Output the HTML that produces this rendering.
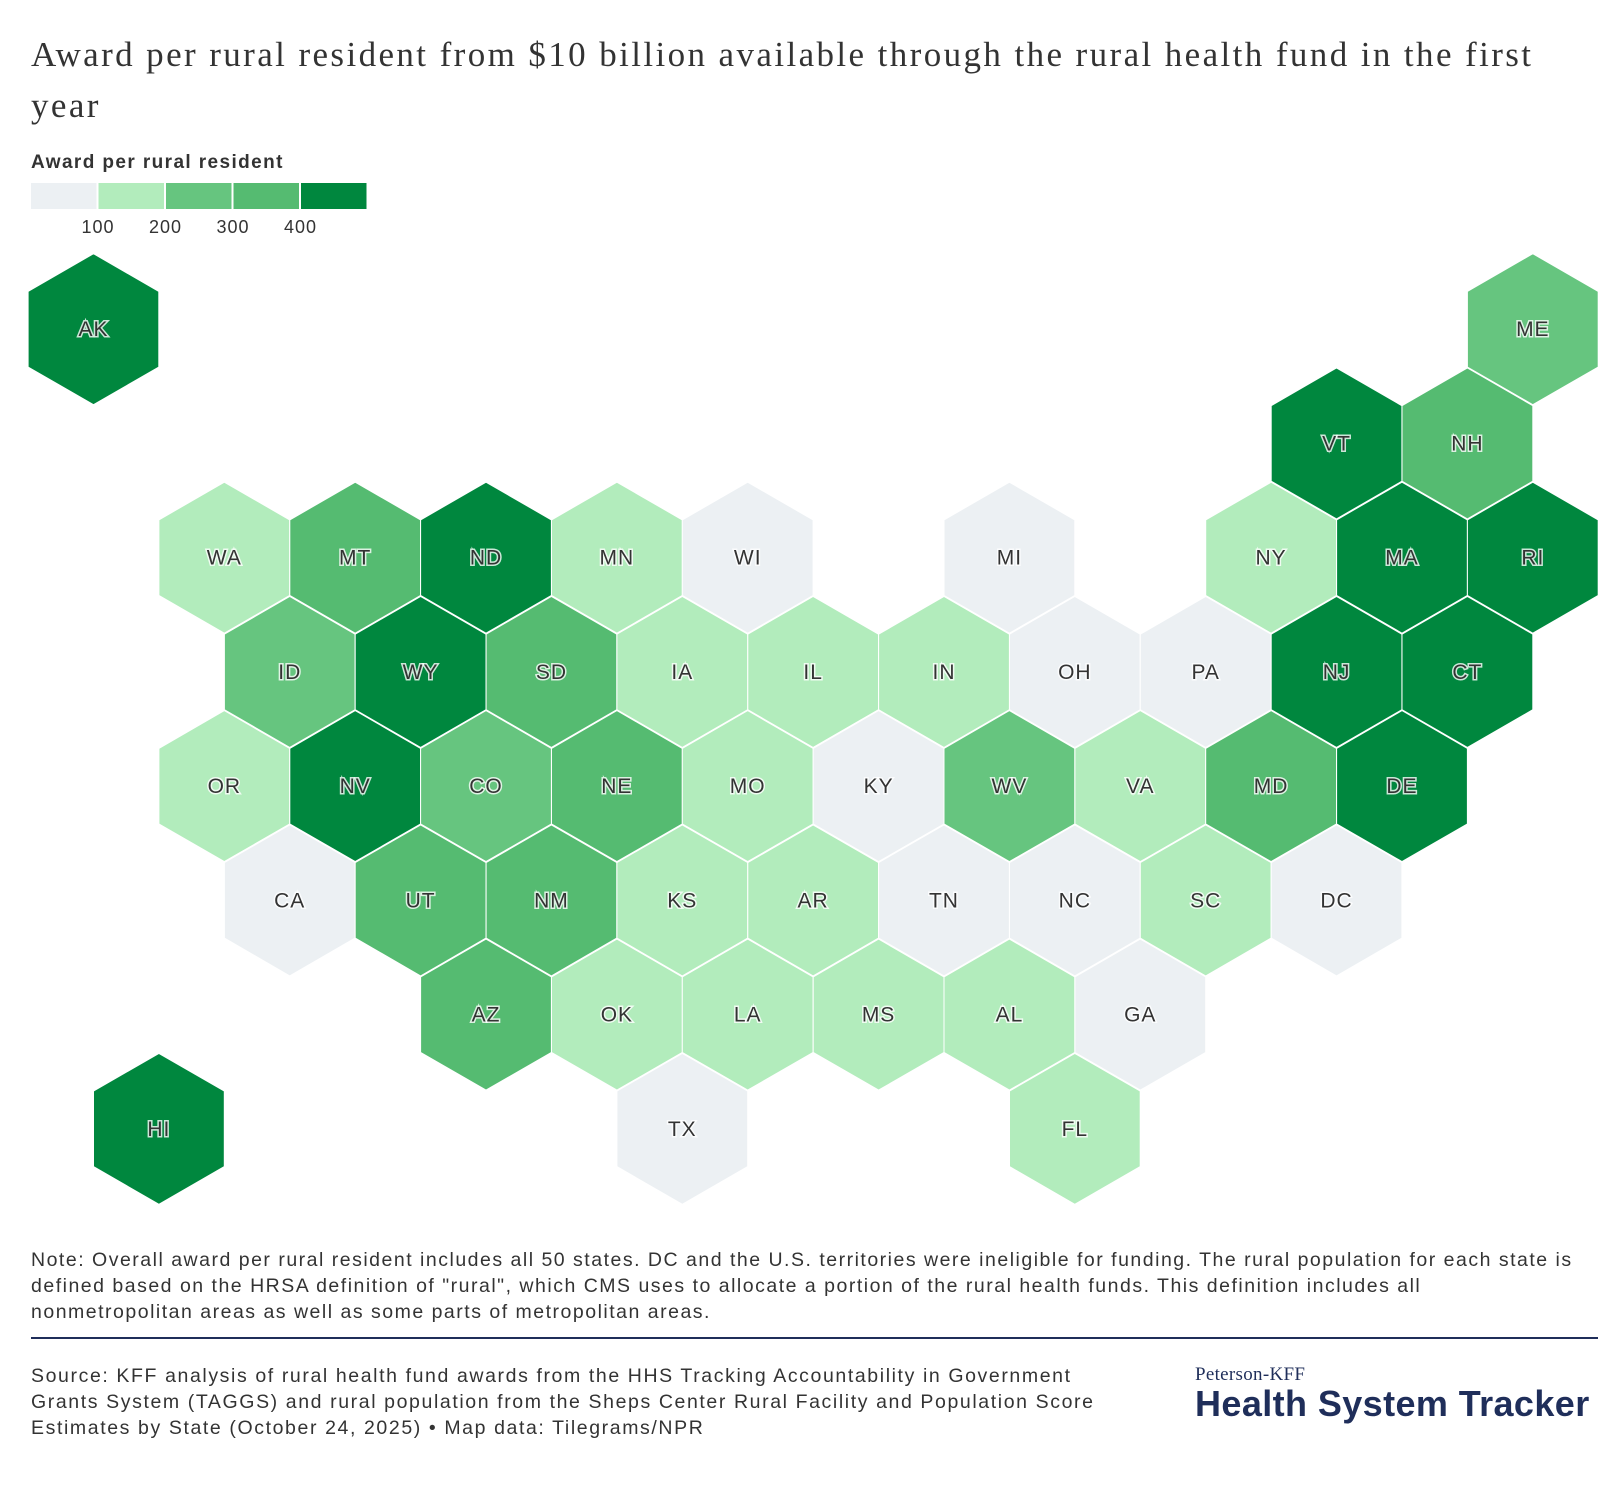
<!DOCTYPE html>
<html><head><meta charset="utf-8"><style>
body{margin:0;background:#fff;width:1620px;height:1492px;overflow:hidden;font-family:"Liberation Sans",sans-serif;color:#222}
.title{position:absolute;left:31px;top:29px;width:1600px;font-family:"Liberation Serif",serif;font-size:35px;letter-spacing:2.4px;line-height:51px;color:#333;white-space:nowrap}
.note{position:absolute;left:31px;top:1247px;width:1600px;font-size:19.5px;letter-spacing:1.5px;line-height:26px;color:#333;white-space:nowrap}
.src{position:absolute;left:31px;top:1363px;width:1100px;font-size:19.5px;letter-spacing:1.6px;line-height:26px;color:#333;white-space:nowrap}
.rule{position:absolute;left:31px;top:1337px;width:1567px;height:2px;background:#1f2e5a}
</style></head><body>
<div class="title">Award per rural resident from $10 billion available through the rural health fund in the first<br>year</div>
<svg id="map" width="1620" height="1240" style="position:absolute;left:0;top:0"></svg>
<div class="note">Note: Overall award per rural resident includes all 50 states. DC and the U.S. territories were ineligible for funding. The rural population for each state is<br>defined based on the HRSA definition of "rural", which CMS uses to allocate a portion of the rural health funds. This definition includes all<br>nonmetropolitan areas as well as some parts of metropolitan areas.</div>
<div class="rule"></div>
<div class="src">Source: KFF analysis of rural health fund awards from the HHS Tracking Accountability in Government<br>Grants System (TAGGS) and rural population from the Sheps Center Rural Facility and Population Score<br>Estimates by State (October 24, 2025) • Map data: Tilegrams/NPR</div>
<div style="position:absolute;left:1195px;top:1364px;color:#1f2e5a;white-space:nowrap">
<div style="font-family:'Liberation Serif',serif;font-size:19px;letter-spacing:0.3px">Peterson-KFF</div>
<div style="font-weight:bold;font-size:36px;letter-spacing:0.4px;margin-top:-3px">Health System Tracker</div></div>
<script>
const states=["AK","ME","VT","NH","WA","MT","ND","MN","WI","MI","NY","MA","RI","ID","WY","SD","IA","IL","IN","OH","PA","NJ","CT","OR","NV","CO","NE","MO","KY","WV","VA","MD","DE","CA","UT","NM","KS","AR","TN","NC","SC","DC","AZ","OK","LA","MS","AL","GA","TX","FL","HI"];
const cols=[1,23,20,22,3,5,7,9,11,15,19,21,23,4,6,8,10,12,14,16,18,20,22,3,5,7,9,11,13,15,17,19,21,4,6,8,10,12,14,16,18,20,7,9,11,13,15,17,10,16,2];
const rows=[-2,-2,-1,-1,0,0,0,0,0,0,0,0,0,1,1,1,1,1,1,1,1,1,1,2,2,2,2,2,2,2,2,2,2,3,3,3,3,3,3,3,3,3,4,4,4,4,4,4,5,5,5];
const values=[520,260,480,310,150,320,470,160,60,50,140,450,460,280,490,330,150,140,160,70,60,440,450,160,460,290,300,150,80,250,150,320,470,40,330,300,160,170,80,70,160,0,300,160,160,170,170,70,50,150,480];
const legendTicks=[100,200,300,400];
const colors=["#ecf0f3","#b2ecbc","#66c57f","#55bb71","#00873e"];
function bin(v){return v<100?0:v<200?1:v<300?2:v<400?3:4}
const svg=document.getElementById('map'),NS="http://www.w3.org/2000/svg";
const k=1.0385;
const xs=c=>(27+c*63)*k, ys=r=>(537+r*110)*k, R=72.7*k;
const lt=document.createElementNS(NS,'text');


lt.setAttribute('x',31);lt.setAttribute('y',168);lt.setAttribute('font-size',19);lt.setAttribute('letter-spacing',1.4);lt.setAttribute('font-weight','bold');lt.setAttribute('fill','#333');lt.textContent='Award per rural resident';svg.appendChild(lt);
colors.forEach((c,i)=>{const r=document.createElementNS(NS,'rect');


r.setAttribute('x',31+i*67.5);r.setAttribute('y',183);r.setAttribute('width',65.5);r.setAttribute('height',26);r.setAttribute('fill',c);svg.appendChild(r);});
legendTicks.forEach((t,i)=>{const e=document.createElementNS(NS,'text');


e.setAttribute('x',98+i*67.5);e.setAttribute('y',233);e.setAttribute('font-size',18);e.setAttribute('letter-spacing',1);e.setAttribute('text-anchor','middle');e.setAttribute('fill','#333');e.textContent=t;svg.appendChild(e);});
states.forEach((s,i)=>{
 const cx=xs(cols[i]),cy=ys(rows[i]);
 const pts=[];for(let j=0;j<6;j++){const a=Math.PI/3*j-Math.PI/2;pts.push((cx+R*Math.cos(a)).toFixed(1)+','+(cy+R*Math.sin(a)).toFixed(1));}
 const p=document.createElementNS(NS,'polygon');
 
 
 p.setAttribute('points',pts.join(' '));p.setAttribute('fill',colors[bin(values[i])]);p.setAttribute('stroke','#fff');p.setAttribute('stroke-width',1);svg.appendChild(p);
 const t=document.createElementNS(NS,'text');
 
 
 t.setAttribute('x',cx);t.setAttribute('y',cy+7);t.setAttribute('text-anchor','middle');t.setAttribute('font-size',21);t.setAttribute('letter-spacing',1);t.setAttribute('fill','#333');
 t.setAttribute('stroke','#fff');t.setAttribute('stroke-width',3);t.setAttribute('paint-order','stroke');t.setAttribute('stroke-opacity',0.8);
 t.textContent=s;svg.appendChild(t);
});
</script>
</body></html>
